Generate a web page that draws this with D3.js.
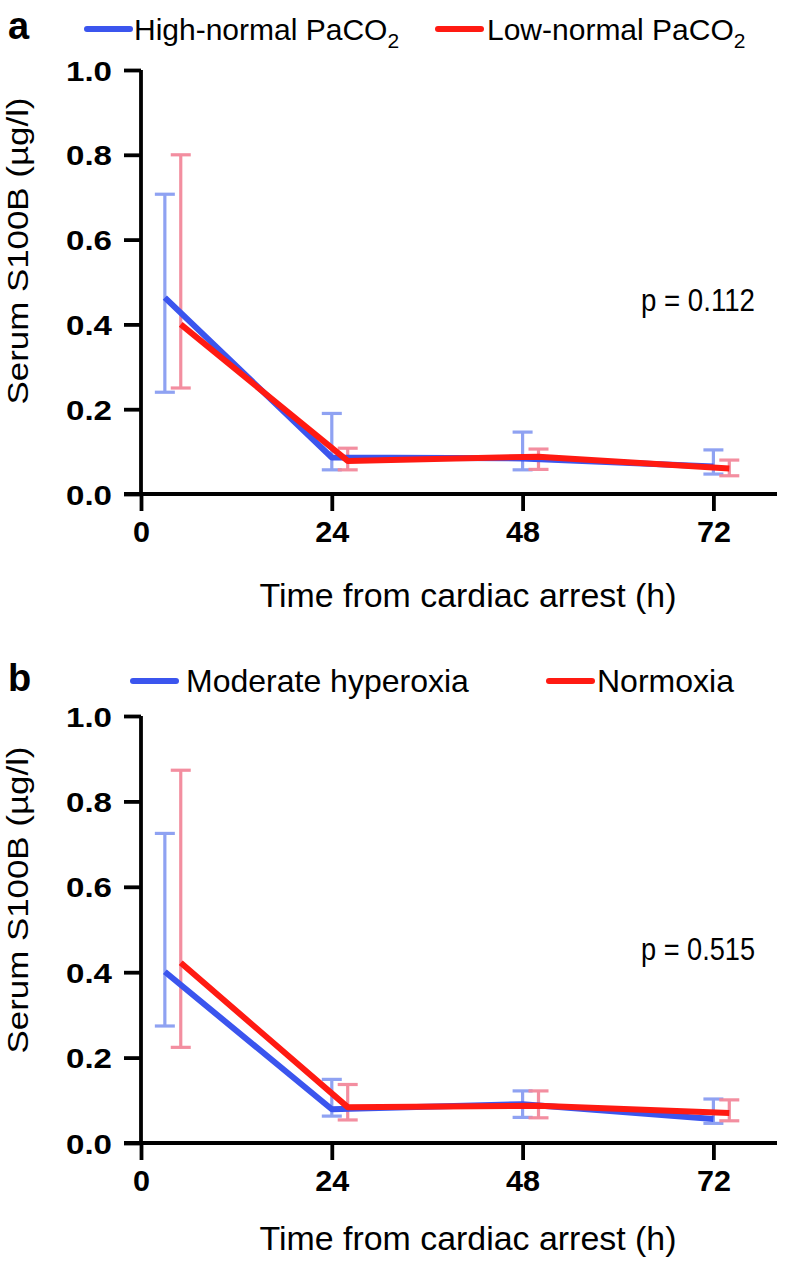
<!DOCTYPE html>
<html><head><meta charset="utf-8">
<script src="https://cdn.jsdelivr.net/npm/d3@7"></script>
<style>body{margin:0;background:#fff}svg{display:block;font-family:"Liberation Sans",Arial,sans-serif}</style>
</head><body>
<svg id="c" width="790" height="1261"></svg>
<script>
// ---- data ----
const xTickValues = [0, 24, 48, 72];
const yTickValues = [0, 0.2, 0.4, 0.6, 0.8, 1.0];
const xTitle = "Time from cardiac arrest (h)";
const yTitle = "Serum S100B (µg/l)";

// Panel a
const aHighTime  = [3, 24, 48, 72];
const aHighMean  = [0.463, 0.086, 0.084, 0.065];
const aHighUpper = [0.707, 0.190, 0.146, 0.104];
const aHighLower = [0.240, 0.057, 0.057, 0.047];
const aLowTime   = [5, 26, 50, 74];
const aLowMean   = [0.400, 0.078, 0.088, 0.060];
const aLowUpper  = [0.800, 0.108, 0.106, 0.080];
const aLowLower  = [0.250, 0.057, 0.058, 0.043];

// Panel b
const bHyperTime  = [3, 24, 48, 72];
const bHyperMean  = [0.401, 0.079, 0.091, 0.056];
const bHyperUpper = [0.725, 0.149, 0.122, 0.103];
const bHyperLower = [0.274, 0.063, 0.060, 0.046];
const bNormTime   = [5, 26, 50, 74];
const bNormMean   = [0.422, 0.084, 0.087, 0.070];
const bNormUpper  = [0.873, 0.137, 0.122, 0.101];
const bNormLower  = [0.224, 0.054, 0.059, 0.052];

const BLUE = "#3b55ee", RED = "#ff1a12";
const BLUE_ERR = "#8a9ef2", RED_ERR = "#f3899b";

function series(t, m, u, l) { return t.map((d, i) => ({t: d, m: m[i], u: u[i], l: l[i]})); }

const panels = [
  { letter: "a", y1: 70, y0: 494, legY: 29, titleY: 607, p: "p = 0.112",
    legend: [
      {label: "High-normal PaCO", sub: "2", color: BLUE, lx: 87, tx: 134, fs: 30},
      {label: "Low-normal PaCO",  sub: "2", color: RED,  lx: 438, tx: 487, fs: 30}
    ],
    series: [
      {color: BLUE, err: BLUE_ERR, data: series(aHighTime, aHighMean, aHighUpper, aHighLower)},
      {color: RED,  err: RED_ERR,  data: series(aLowTime, aLowMean, aLowUpper, aLowLower)}
    ]},
  { letter: "b", y1: 716, y0: 1143, legY: 681, titleY: 1250, p: "p = 0.515",
    legend: [
      {label: "Moderate hyperoxia", sub: "", color: BLUE, lx: 133, tx: 186, fs: 32},
      {label: "Normoxia", sub: "", color: RED, lx: 549, tx: 597, fs: 32}
    ],
    series: [
      {color: BLUE, err: BLUE_ERR, data: series(bHyperTime, bHyperMean, bHyperUpper, bHyperLower)},
      {color: RED,  err: RED_ERR,  data: series(bNormTime, bNormMean, bNormUpper, bNormLower)}
    ]}
];

const svg = d3.select("#c");
const x = d3.scaleLinear().domain([0, 80]).range([141, 777]);

panels.forEach(P => {
  const g = svg.append("g");
  const y = d3.scaleLinear().domain([0, 1]).range([P.y0, P.y1]);
  const legY = P.legY;

  // panel letter
  g.append("text").attr("x", 8).attr("y", legY + 10).attr("font-size", 38).attr("font-weight", "bold").text(P.letter);

  // legend
  P.legend.forEach(L => {
    g.append("line").attr("x1", L.lx).attr("x2", L.lx + 43).attr("y1", legY).attr("y2", legY)
      .attr("stroke", L.color).attr("stroke-width", 6).attr("stroke-linecap", "round");
    const t = g.append("text").attr("x", L.tx).attr("y", legY + 11).attr("font-size", L.fs);
    t.append("tspan").text(L.label);
    if (L.sub) t.append("tspan").attr("font-size", 21).attr("dy", 8).text(L.sub);
  });

  // error bars
  P.series.forEach(S => {
    const eb = g.append("g").attr("stroke", S.err).attr("stroke-width", 3.2).attr("opacity", 0.95);
    S.data.forEach(d => {
      const cx = x(d.t);
      eb.append("line").attr("x1", cx).attr("x2", cx).attr("y1", y(d.u)).attr("y2", y(d.l));
      eb.append("line").attr("x1", cx - 10).attr("x2", cx + 10).attr("y1", y(d.u)).attr("y2", y(d.u));
      eb.append("line").attr("x1", cx - 10).attr("x2", cx + 10).attr("y1", y(d.l)).attr("y2", y(d.l));
    });
  });
  // lines
  P.series.forEach(S => {
    g.append("path").datum(S.data)
      .attr("d", d3.line().x(d => x(d.t)).y(d => y(d.m)))
      .attr("fill", "none").attr("stroke", S.color).attr("stroke-width", 6)
      .attr("stroke-linejoin", "round");
  });

  // y axis
  const ya = g.append("g").attr("transform", `translate(${x(0)},0)`)
    .call(d3.axisLeft(y).tickValues(yTickValues).tickSize(17).tickPadding(12).tickFormat(d3.format(".1f")));
  ya.select(".domain").attr("stroke-width", 3.8).attr("d", `M0,${P.y0}V${P.y1}`);
  ya.selectAll(".tick line").attr("stroke-width", 3.8);
  ya.selectAll(".tick text").attr("font-size", 28).attr("font-weight", "bold").attr("fill", "#000")
    .attr("font-family", "Liberation Sans, Arial, sans-serif").attr("dy", "0.36em")
    .attr("textLength", 46).attr("lengthAdjust", "spacingAndGlyphs");

  // x axis
  const xa = g.append("g").attr("transform", `translate(0,${P.y0})`)
    .call(d3.axisBottom(x).tickValues(xTickValues).tickSize(17).tickPadding(10));
  xa.select(".domain").attr("stroke-width", 3.8).attr("d", `M${x(0) - 17},0H777`);
  xa.selectAll(".tick line").attr("stroke-width", 3.8);
  xa.selectAll(".tick text").attr("font-size", 29).attr("font-weight", "bold").attr("fill", "#000")
    .attr("font-family", "Liberation Sans, Arial, sans-serif").attr("dy", "0.71em")
    .each(function(d) { const w = d === 0 ? 17 : 34; d3.select(this).attr("textLength", w).attr("lengthAdjust", "spacingAndGlyphs"); });

  // axis titles
  g.append("text").attr("transform", `translate(28,${P.y0 - 243}) rotate(-90)`)
    .attr("text-anchor", "middle").attr("font-size", 30).text(yTitle)
    .attr("textLength", 307).attr("lengthAdjust", "spacingAndGlyphs");
  g.append("text").attr("x", 468).attr("y", P.titleY).attr("text-anchor", "middle")
    .attr("font-size", 33).text(xTitle)
    .attr("textLength", 417).attr("lengthAdjust", "spacingAndGlyphs");

  // p value
  g.append("text").attr("x", 641).attr("y", P.y0 - 183).attr("font-size", 31).text(P.p)
    .attr("textLength", 114).attr("lengthAdjust", "spacingAndGlyphs");
});
</script>
</body></html>
